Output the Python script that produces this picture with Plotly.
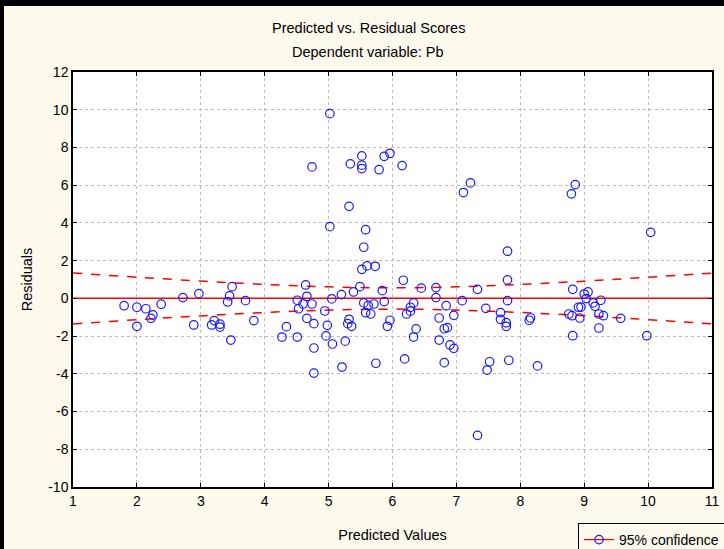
import plotly.graph_objects as go

# Predicted values (x) and residuals (y)
predicted = [
    1.80, 2.00, 2.00, 2.14, 2.25, 2.22, 2.38, 2.72, 2.89, 2.97,
    3.21, 3.17, 3.30, 3.30, 3.42, 3.45, 3.49, 3.47, 3.70, 3.83,
    5.02, 5.52, 5.87, 5.96, 4.74, 5.34, 5.52, 5.52, 5.79, 6.15,
    5.32, 5.02, 5.58,
    5.55, 5.52, 5.60, 5.73, 6.17, 6.45, 4.64, 4.66, 4.51, 4.60,
    4.74, 4.53, 4.94, 5.05, 5.20, 5.39, 5.49, 5.84, 5.55, 5.62,
    5.71, 5.58, 5.66, 5.87, 6.33, 6.28, 6.28, 6.22, 4.66, 4.77,
    4.34, 4.27, 4.51, 4.98, 4.96, 5.06, 4.77, 5.32, 5.30, 5.36,
    5.26, 5.96, 5.92, 4.77, 5.21, 5.74, 6.19, 6.37, 6.33,
    7.22, 7.11, 8.86, 8.80, 7.80, 7.80, 6.68, 7.33, 8.82, 6.68,
    7.09, 7.80, 6.84, 7.46, 6.96, 6.73, 7.69, 7.69, 7.78, 7.78,
    6.81, 6.86, 6.73, 6.90, 6.96, 6.81, 7.52, 7.48, 7.82, 8.27,
    7.33, 8.14, 8.16, 8.76, 8.82, 8.91,
    10.04, 9.06, 9.00, 9.03, 9.14, 9.26, 9.17, 8.95, 8.81, 8.93,
    9.23, 9.30, 9.57, 9.23, 9.98,
]
residuals = [
    -0.39, -0.47, -1.48, -0.55, -0.88, -1.06, -0.31, 0.04, -1.41, 0.25,
    -1.18, -1.41, -1.37, -1.52, -0.19, 0.13, 0.62, -2.21, -0.12, -1.18,
    9.79, 7.55, 7.53, 7.69, 6.97, 7.13, 7.06, 6.88, 6.82, 7.04,
    4.88, 3.80, 3.64,
    2.71, 1.54, 1.72, 1.70, 0.96, 0.54, 0.71, 0.11, -0.10, -0.30,
    -0.30, -0.55, -0.67, -0.03, 0.20, 0.34, 0.62, 0.41, -0.24, -0.37,
    -0.30, -0.76, -0.83, -0.17, -0.24, -0.47, -0.68, -0.83, -1.06, -1.34,
    -1.50, -2.05, -2.05, -1.43, -1.99, -2.42, -2.63, -1.11, -1.34, -1.48,
    -2.27, -1.16, -1.48, -3.96, -3.64, -3.44, -3.21, -1.62, -2.05,
    6.12, 5.61, 6.03, 5.54, 2.50, 0.98, 0.57, 0.48, 0.48, 0.04,
    -0.12, -0.12, -0.39, -0.53, -0.90, -1.04, -0.76, -1.11, -1.29, -1.48,
    -1.61, -1.55, -2.21, -2.47, -2.65, -3.41, -3.36, -3.80, -3.28, -3.58,
    -7.26, -1.16, -1.04, -0.83, -1.98, -0.47,
    3.50, 0.34, 0.23, -0.01, -0.24, -0.10, -0.42, -0.46, -0.92, -1.04,
    -0.83, -0.92, -1.06, -1.57, -1.98,
]

# Regression line and 95% confidence band
reg_x = [1, 11]
reg_y = [0.0, 0.0]
band_x = [1, 2, 3, 4, 5, 6, 7, 8, 9, 10, 11]
band_upper = [1.35, 1.12, 0.92, 0.74, 0.61, 0.56, 0.61, 0.74, 0.91, 1.12, 1.34]
band_lower = [-1.36, -1.13, -0.93, -0.75, -0.62, -0.57, -0.62, -0.75, -0.92, -1.13, -1.35]

x_ticks = list(range(1, 12))
y_ticks = list(range(-10, 13, 2))

title_main = "Predicted vs. Residual Scores"
title_sub = "Dependent variable: Pb"
x_title = "Predicted Values"
y_title = "Residuals"
legend_name = "95% confidence"

BG = "rgb(253,249,237)"
FONT = "Liberation Sans"
RED = "#ff0000"
BLUE = "#1a1aff"

fig = go.Figure()

fig.add_trace(go.Scatter(
    x=band_x, y=band_upper, mode="lines", line=dict(color=RED, dash="dash", width=1.5, shape="spline"),
    showlegend=False, hoverinfo="skip"))
fig.add_trace(go.Scatter(
    x=band_x, y=band_lower, mode="lines", line=dict(color=RED, dash="dash", width=1.5, shape="spline"),
    showlegend=False, hoverinfo="skip"))
fig.add_trace(go.Scatter(
    x=reg_x, y=reg_y, mode="lines", line=dict(color=RED, width=1.5),
    showlegend=False, hoverinfo="skip"))
fig.add_trace(go.Scatter(
    x=predicted, y=residuals, mode="markers",
    marker=dict(symbol="circle-open", size=8.5, color=BLUE, line=dict(color=BLUE, width=1.2)),
    showlegend=False))
# legend entry
fig.add_trace(go.Scatter(
    x=[None], y=[None], mode="lines+markers", name=legend_name,
    line=dict(color=RED, width=1.2),
    marker=dict(symbol="circle-open", size=8.5, color=BLUE, line=dict(color=BLUE, width=1.2)),
    showlegend=True))

axis_common = dict(
    showline=True, linecolor="black", linewidth=1.5, mirror="ticks",
    ticks="inside", ticklen=4, tickcolor="black",
    showgrid=True, gridcolor="#bdbdbd", griddash="dot", gridwidth=1,
    zeroline=False, tickfont=dict(family=FONT, size=14, color="black"),
)

fig.update_xaxes(range=[1, 11], tickvals=x_ticks, ticktext=[str(v) for v in x_ticks],
                 title=dict(text=x_title, font=dict(family=FONT, size=14.5, color="black"), standoff=22),
                 **axis_common)
fig.update_yaxes(range=[-10, 12], tickvals=y_ticks, ticktext=[str(v) for v in y_ticks],
                 title=dict(text=y_title, font=dict(family=FONT, size=14.5, color="black"), standoff=12),
                 **axis_common)

title_x = (368 - 73) / 639

fig.update_layout(
    width=724, height=549,
    margin=dict(l=73, r=12, t=72, b=62, autoexpand=False),
    paper_bgcolor=BG, plot_bgcolor="white",
    font=dict(family=FONT, size=14, color="black"),
    showlegend=True,
    legend=dict(x=(578 - 73) / 639, y=(487 - 523) / 415, xanchor="left", yanchor="top",
                bgcolor=BG, bordercolor="black", borderwidth=1,
                font=dict(family=FONT, size=14, color="black")),
    annotations=[
        dict(text=title_main, xref="paper", yref="paper", x=title_x, y=(487 - 28) / 415,
             xanchor="center", yanchor="middle", showarrow=False, font=dict(family=FONT, size=14.5)),
        dict(text=title_sub, xref="paper", yref="paper", x=title_x, y=(487 - 52) / 415,
             xanchor="center", yanchor="middle", showarrow=False, font=dict(family=FONT, size=14.5)),
    ],
    shapes=[
        dict(type="rect", xref="paper", yref="paper", x0=-73 / 639, x1=(724 - 73) / 639,
             y0=(487 - 6) / 415, y1=(487 + 5) / 415, fillcolor="black", line=dict(width=0), layer="above"),
        dict(type="rect", xref="paper", yref="paper", x0=-73 / 639, x1=-69 / 639,
             y0=-62 / 415, y1=(487 + 5) / 415, fillcolor="black", line=dict(width=0), layer="above"),
    ],
)

fig.write_html("out.html", config={"displayModeBar": False},
               post_script="document.body.style.margin='0';")
